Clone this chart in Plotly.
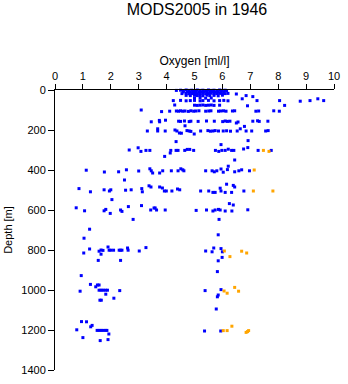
import plotly.graph_objects as go

# Oxygen profiles, MODS2005 stations in 1946: (oxygen [ml/l], depth [m])
blue_oxygen = [
    # surface layer 0-45 m
    4.35, 4.50, 4.60, 4.70, 4.80, 4.90, 5.00, 5.10, 5.20, 5.30, 5.40, 5.50, 5.60, 5.70, 5.80, 5.90, 6.00, 6.10, 6.15,
    4.60, 4.75, 4.85, 4.95, 5.05, 5.15, 5.25, 5.35, 5.45, 5.55, 5.65, 5.75, 5.85, 5.95, 6.05,
    4.55, 4.70, 4.80, 4.90, 5.00, 5.10, 5.20, 5.30, 5.40, 5.50, 5.60, 5.70, 5.80, 5.90, 6.00, 6.10, 6.20, 6.50,
    4.70, 4.85, 5.00, 5.10, 5.20, 5.30, 5.45, 5.55, 5.70, 5.85, 6.00, 6.85, 7.09,
    5.00, 5.20, 5.40, 5.60, 6.71, 9.42,
    # 50 m
    4.24, 4.50, 4.70, 4.85, 5.00, 5.20, 5.30, 5.50, 5.70, 5.90, 6.05, 6.20, 7.24, 8.05, 8.79, 9.14, 9.63,
    # 75 m
    4.29, 5.00, 5.10, 5.20, 5.30, 5.40, 5.50, 5.60, 5.70, 5.90, 6.90, 8.23,
    # 100 m
    3.09, 3.82, 4.11, 4.35, 4.43, 4.50, 4.58, 4.66, 4.78, 4.87, 4.97, 5.05, 5.16, 5.40, 5.51, 5.59,
    5.86, 5.94, 6.04, 6.13, 6.36, 6.44, 7.20, 7.30, 7.84, 8.04,
    # 150 m
    3.45, 3.75, 3.96, 3.74, 4.43, 4.50, 4.64, 4.81, 4.87, 5.13, 5.43, 5.71, 6.01, 6.10, 6.18, 6.27,
    6.56, 7.09, 7.26, 7.32, 7.63, 4.66, 6.79, 6.50,
    # 200 m
    3.31, 3.68, 3.68, 3.95, 4.30, 4.37, 4.46, 4.53, 4.73, 4.81, 4.87, 4.99, 5.22, 5.48, 5.57, 5.66,
    5.74, 5.86, 6.03, 6.15, 6.29, 6.53, 6.64, 6.85, 7.05, 7.55, 7.64,
    # 250 m
    4.34, 6.92, 5.95,
    # 300 m
    2.66, 2.98, 3.08, 3.26, 3.40, 3.93, 4.13, 4.15, 4.34, 4.41, 4.65, 4.74, 4.83, 4.97, 5.75, 5.87,
    5.98, 6.10, 6.21, 6.33, 6.41, 6.76, 6.91, 7.28, 7.75, 6.44, 6.21,
    # 400 m
    1.12, 1.77, 2.28, 2.56, 2.49, 3.00, 3.40, 3.45, 3.50, 3.75, 3.86, 4.17, 4.41, 4.51, 4.58, 4.62,
    5.40, 5.63, 5.71, 5.80, 5.95, 6.03, 6.18, 6.44, 6.59, 6.69, 6.97,
    # 500 m
    0.86, 1.27, 1.76, 1.95, 2.00, 2.04, 2.53, 2.73, 3.11, 3.13, 3.37, 3.44, 3.75, 3.85, 3.92, 3.99,
    4.19, 4.39, 4.47, 5.22, 5.51, 5.66, 5.74, 5.92, 5.95, 6.10, 6.15, 6.33, 6.39, 6.44, 6.77,
    # 600 m
    0.76, 1.06, 1.76, 1.82, 1.98, 2.35, 2.40, 2.63, 2.80, 3.10, 3.43, 3.55, 3.59, 3.64, 3.95, 5.06,
    5.43, 5.66, 5.74, 5.86, 5.92, 6.10, 6.34, 6.91, 6.25, 6.39, 5.88,
    # 700-900 m
    1.24, 1.04, 5.85,
    1.24, 1.03, 1.58, 1.65, 1.65, 1.72, 1.90, 1.94, 2.00, 2.10, 2.30, 2.35, 2.40, 2.60, 2.62, 3.02,
    3.26, 1.55, 2.35, 5.40, 5.69, 5.63, 5.95, 6.00, 5.99, 5.85, 5.82,
    # 1000 m
    0.94, 1.27, 0.90, 1.46, 1.52, 1.58, 1.58, 1.65, 1.72, 1.80, 1.88, 1.82, 1.61, 1.66, 2.11, 2.32,
    5.38, 5.95, 5.85, 5.82, 5.78,
    # 1200 m
    0.95, 1.13, 0.78, 1.00, 1.28, 1.33, 1.51, 1.58, 1.65, 1.72, 1.80, 1.86, 1.93, 1.62, 1.90,
    5.36, 5.94,
]

blue_depth = [
    2, 1, 3, 0, 2, 1, 3, 0, 2, 1, 3, 0, 2, 1, 3, 0, 2, 1, 3,
    10, 9, 11, 10, 8, 11, 10, 9, 11, 10, 8, 11, 10, 9, 11,
    18, 17, 19, 18, 16, 19, 18, 17, 19, 18, 16, 19, 18, 17, 19, 18, 17, 20,
    27, 28, 26, 28, 27, 29, 26, 28, 27, 29, 26, 28, 33,
    40, 39, 41, 40, 44, 44,
    53, 52, 54, 53, 52, 54, 53, 52, 54, 53, 52, 54, 53, 53, 56, 53, 53,
    75, 76, 77, 76, 75, 77, 76, 75, 77, 76, 79, 77,
    100, 108, 106, 105, 106, 104, 106, 105, 107, 104, 106, 105, 104, 106, 105, 104,
    106, 105, 104, 106, 105, 104, 106, 105, 104, 106,
    159, 159, 151, 152, 156, 157, 155, 158, 156, 157, 155, 156, 158, 155, 157, 156,
    160, 156, 154, 157, 156, 179, 182, 165,
    205, 194, 205, 205, 200, 205, 215, 216, 203, 205, 207, 220, 205, 203, 206, 205,
    203, 205, 205, 204, 206, 205, 194, 205, 205, 205, 203,
    258, 253, 273,
    300, 289, 307, 302, 302, 332, 315, 302, 302, 302, 302, 297, 297, 302, 302, 307,
    302, 302, 296, 302, 302, 295, 288, 302, 302, 350, 381,
    401, 410, 409, 399, 450, 405, 394, 404, 415, 415, 404, 404, 404, 394, 399, 404,
    404, 404, 409, 404, 395, 411, 398, 409, 404, 399, 404,
    493, 509, 499, 505, 499, 548, 501, 499, 493, 509, 479, 485, 485, 490, 505, 505,
    505, 495, 499, 505, 505, 512, 512, 491, 505, 512, 471, 512, 477, 485, 505,
    589, 604, 604, 597, 617, 600, 607, 583, 647, 578, 600, 590, 590, 600, 600, 602,
    600, 605, 600, 597, 600, 605, 605, 599, 568, 575, 647,
    696, 741, 724,
    795, 815, 806, 800, 821, 802, 785, 801, 801, 801, 801, 801, 801, 790, 801, 805,
    788, 852, 852, 805, 790, 809, 793, 809, 837, 854, 908,
    928, 972, 1006, 984, 975, 975, 1001, 1001, 1001, 1001, 1001, 1021, 1051, 1051, 1041, 1003,
    1003, 998, 1025, 1034, 1095,
    1158, 1159, 1199, 1238, 1184, 1177, 1202, 1202, 1202, 1202, 1202, 1202, 1220, 1253, 1248,
    1205, 1205,
]

orange_oxygen = [7.47, 7.67, 7.14, 7.11, 7.81, 6.07, 6.27, 6.69, 6.87,
                 6.06, 6.17, 6.44, 6.58, 6.03, 6.17, 6.34, 6.85, 6.94, 6.90]
orange_depth = [302, 307, 400, 505, 505, 805, 833, 806, 815,
                1005, 1016, 987, 1006, 1203, 1203, 1181, 1212, 1203, 1208]

FONT = "Liberation Sans, Arial, Helvetica, sans-serif"

fig = go.Figure()
fig.add_trace(go.Scatter(
    x=blue_oxygen, y=blue_depth, mode="markers",
    marker=dict(symbol="square", size=3, color="#0000FF", line=dict(width=0)),
    cliponaxis=False, showlegend=False,
))
fig.add_trace(go.Scatter(
    x=orange_oxygen, y=orange_depth, mode="markers",
    marker=dict(symbol="square", size=3, color="#FFA500", line=dict(width=0)),
    cliponaxis=False, showlegend=False,
))

axis_common = dict(
    showgrid=False, zeroline=False, showline=True, linecolor="black", linewidth=1,
    ticks="outside", tickcolor="black", tickwidth=1,
    tickfont=dict(family=FONT, size=11, color="black"),
)

fig.update_layout(
    width=348, height=384,
    margin=dict(l=54, r=8, t=90, b=10),
    paper_bgcolor="white", plot_bgcolor="white",
    title=dict(text="MODS2005 in 1946", x=197 / 348, xanchor="center",
               yref="container", y=1 - 9 / 384, yanchor="middle",
               font=dict(family=FONT, size=16, color="black")),
    xaxis=dict(range=[0, 10], dtick=1, side="top", ticklen=5,
               title=dict(text="Oxygen [ml/l]", standoff=1,
                          font=dict(family=FONT, size=12, color="black")),
               **axis_common),
    yaxis=dict(range=[1400, 0], dtick=200, ticklen=6,
               title=dict(text="Depth [m]", standoff=6,
                          font=dict(family=FONT, size=11, color="black")),
               **axis_common),
)

fig.write_html("out.html")
